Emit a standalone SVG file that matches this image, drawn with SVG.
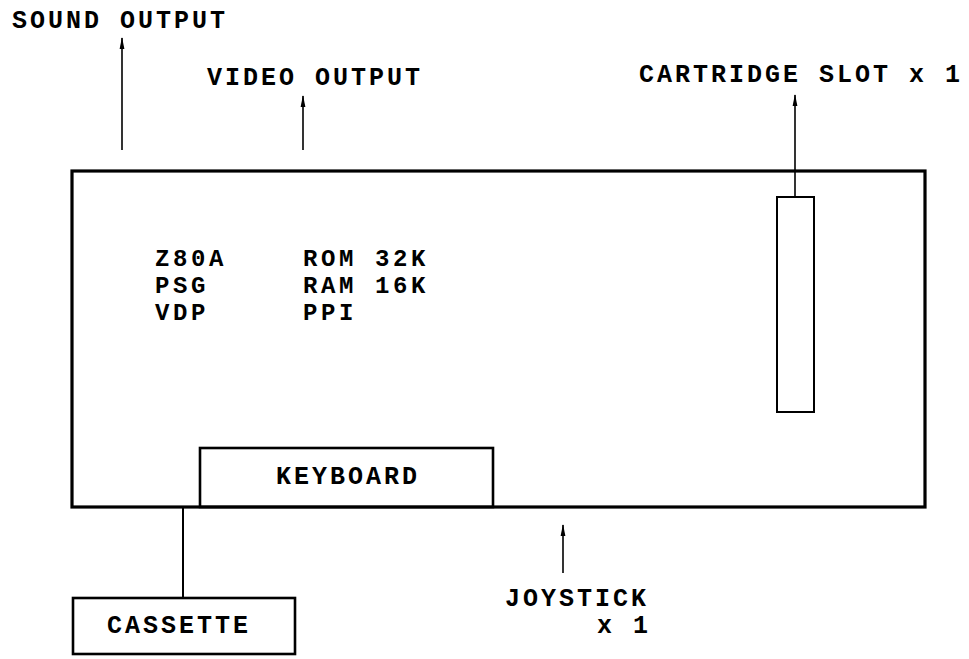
<svg xmlns="http://www.w3.org/2000/svg" width="969" height="659" viewBox="0 0 969 659">
<defs>
<marker id="ah" viewBox="0 0 12 6" refX="11" refY="3" markerWidth="12" markerHeight="6" markerUnits="userSpaceOnUse" orient="auto">
<path d="M0,0.6 L12,3 L0,5.4 Z" fill="#000"/>
</marker>
<style>
text{font-family:"Liberation Mono","Courier New",monospace;font-weight:bold;font-size:25px;letter-spacing:3px;fill:#000}
.inner{font-size:24px;letter-spacing:3.6px}
.box{fill:none;stroke:#000}
.arrow{stroke:#000;stroke-width:1.6;fill:none;marker-end:url(#ah)}
.wire{stroke:#000;stroke-width:2;fill:none}
</style>
</defs>
<rect width="969" height="659" fill="#fff"/>
<g id="main">
<rect class="box" x="72" y="171" width="853" height="336" stroke-width="3.2"/>
<text class="inner" x="155" y="266">Z80A</text>
<text class="inner" x="155" y="293">PSG</text>
<text class="inner" x="155" y="320">VDP</text>
<text class="inner" x="303" y="266">ROM 32K</text>
<text class="inner" x="303" y="293">RAM 16K</text>
<text class="inner" x="303" y="320">PPI</text>
</g>
<g id="cartridge-slot">
<rect class="box" x="777" y="197" width="37" height="215" stroke-width="2"/>
</g>
<g id="keyboard">
<rect class="box" x="200" y="448" width="293" height="59" stroke-width="2.6"/>
<text x="348" y="484" text-anchor="middle">KEYBOARD</text>
</g>
<g id="cassette">
<rect class="box" x="73" y="598" width="222" height="56" stroke-width="2.6"/>
<text x="179" y="633" text-anchor="middle">CASSETTE</text>
</g>
<g id="sound-output"><text x="12" y="28">SOUND OUTPUT</text></g>
<g id="video-output"><text x="207" y="85">VIDEO OUTPUT</text></g>
<g id="cartridge-label"><text x="639" y="82">CARTRIDGE SLOT x 1</text></g>
<g id="joystick"><text x="505" y="606">JOYSTICK</text><text x="597" y="633">x 1</text></g>
<g id="connectors">
<line class="arrow" x1="122" y1="150" x2="122" y2="38"/>
<line class="arrow" x1="303" y1="150" x2="303" y2="96"/>
<line class="arrow" x1="795" y1="197" x2="795" y2="95"/>
<line class="arrow" x1="563" y1="573" x2="563" y2="525"/>
<line class="wire" x1="183" y1="507" x2="183" y2="598"/>
</g>
</svg>
